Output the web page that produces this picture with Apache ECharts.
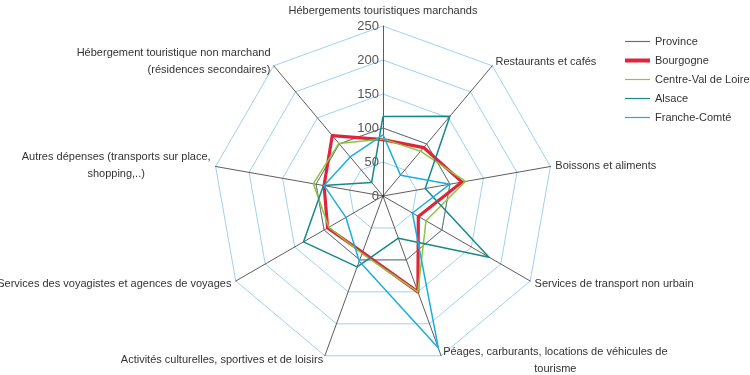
<!DOCTYPE html>
<html><head><meta charset="utf-8">
<script src="https://cdn.jsdelivr.net/npm/echarts@6/dist/echarts.min.js"></script>
<style>html,body{margin:0;padding:0;background:#fff}#c{width:750px;height:375px}</style>
</head><body><div id="c"></div>
<script>
// Categories in clockwise order starting from the top
const categories = [
  "Hébergements touristiques marchands",
  "Restaurants et cafés",
  "Boissons et aliments",
  "Services de transport non urbain",
  "Péages, carburants, locations de véhicules de\ntourisme",
  "Activités culturelles, sportives et de loisirs",
  "Services des voyagistes et agences de voyages",
  "Autres dépenses (transports sur place,\nshopping,..)",
  "Hébergement touristique non marchand\n(résidences secondaires)"
];
const seriesNames = ["Province", "Bourgogne", "Centre-Val de Loire", "Alsace", "Franche-Comté"];
const province = [100, 100, 100, 100, 100, 100, 100, 100, 100];
const bourgogne = [83, 93, 118, 60, 150, 88, 94, 88, 116];
const centreValDeLoire = [84, 86, 123, 73, 150, 90, 92, 104, 101];
const alsace = [117, 153, 63, 180, 66, 111, 135, 89, 26];
const francheComte = [90, 40, 100, 50, 238, 102, 63, 88, 75];
const axisMax = 250;
const tickLabels = ["0", "50", "100", "150", "200", "250"];

const colors = ["#6e6e6e", "#e0243c", "#8cc63e", "#16898a", "#1aaee0"];
const widths = [1, 3.2, 1.5, 1.5, 1.5];
const allValues = [province, bourgogne, centreValDeLoire, alsace, francheComte];
const centeredLabels = [4, 7]; // two-line labels whose lines are centred on each other

const font = '"Liberation Sans Narrow", "Liberation Sans", sans-serif';
const nameSize = 11;
const measureCtx = document.createElement('canvas').getContext('2d');
measureCtx.font = nameSize + 'px ' + font;

const baseText = { fontFamily: font, fontSize: nameSize, color: '#333', lineHeight: 17 };
const rich = { n: Object.assign({}, baseText) };
centeredLabels.forEach(ci => {
  const lines = categories[ci].split('\n');
  const w = Math.max.apply(null, lines.map(l => measureCtx.measureText(l).width));
  rich['c' + ci] = Object.assign({}, baseText, { width: Math.ceil(w), align: 'center' });
});

// ECharts places indicators counter-clockwise; reorder to get clockwise layout
const order = [0].concat(categories.slice(1).map((_, i) => categories.length - 1 - i));
const indicators = order.map((idx, k) => {
  const ind = { name: categories[idx], max: axisMax, min: 0 };
  if (k === 0) ind.axisLabel = { show: true };
  return ind;
});

const chart = echarts.init(document.getElementById('c'));
chart.setOption({
  animation: false,
  legend: {
    orient: 'vertical',
    left: 625,
    top: 36,
    padding: 0,
    itemWidth: 25,
    itemHeight: 6,
    itemGap: 8,
    symbolKeepAspect: true,
    textStyle: { fontFamily: font, fontSize: 11, color: '#333' },
    data: seriesNames.map((n, i) => ({
      name: n,
      icon: i === 1 ? 'path://M0,0H25V4H0Z' : 'path://M0,0H25V1.2H0Z',
      itemStyle: { color: colors[i] }
    }))
  },
  radar: {
    center: [383, 196],
    radius: 170,
    shape: 'polygon',
    splitNumber: 5,
    indicator: indicators,
    axisName: {
      color: '#333', fontFamily: font, fontSize: nameSize, lineHeight: 17,
      rich: rich,
      formatter: function (name) {
        const ci = categories.indexOf(name);
        if (centeredLabels.indexOf(ci) < 0) return name;
        return name.split('\n').map(l => '{c' + ci + '|' + l + '}').join('\n');
      }
    },
    nameGap: 5,
    axisLine: { lineStyle: { color: '#333', width: 0.8 } },
    splitLine: { lineStyle: { color: '#9fd1ee', width: 1 } },
    splitArea: { show: false },
    axisTick: { show: false },
    axisLabel: {
      show: false,
      color: '#555',
      fontFamily: font,
      fontSize: 13,
      margin: 4,
      formatter: (v) => tickLabels[Math.round(v / 50)]
    }
  },
  series: seriesNames.map((n, i) => ({
    type: 'radar',
    name: n,
    symbol: 'none',
    z: 2 + i,
    lineStyle: { color: colors[i], width: widths[i] },
    itemStyle: { color: colors[i] },
    data: [{ name: n, value: order.map(idx => allValues[i][idx]) }]
  }))
});
</script></body></html>
